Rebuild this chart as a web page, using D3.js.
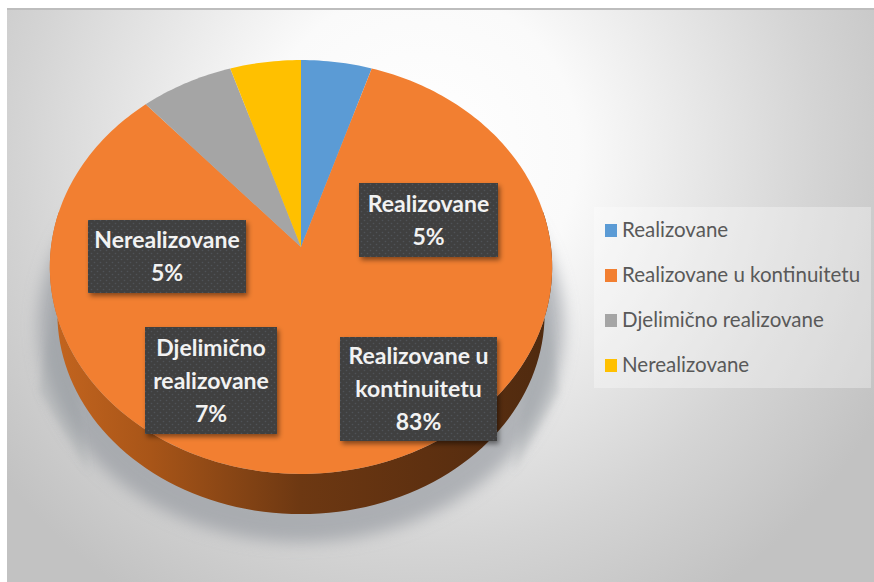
<!DOCTYPE html>
<html><head><meta charset="utf-8">
<script src="https://cdn.jsdelivr.net/npm/d3@7/dist/d3.min.js"></script>
<style>html,body{margin:0;padding:0;background:#fff}svg{display:block}</style>
</head><body><svg id="c" width="874" height="582"></svg>
<script>
const categories = ["Realizovane","Realizovane u kontinuitetu","Djelimično realizovane","Nerealizovane"];
const values = [5, 83.4, 6.6, 5];
const colors = ["#5b9bd5","#f27f31","#a5a5a5","#ffc000"];
const labelPositions = [[359,183,139,74],[340,337,157,104],[145,327,132,107],[88,220,158,73]];
const labelLines = [["Realizovane"],["Realizovane u","kontinuitetu"],["Djelimično","realizovane"],["Nerealizovane"]];

const svg = d3.select("#c");
const defs = svg.append("defs");
const bg = defs.append("radialGradient").attr("id","bg").attr("gradientUnits","userSpaceOnUse")
  .attr("cx",420).attr("cy",150).attr("r",530);
bg.append("stop").attr("offset","0").attr("stop-color","#ffffff");
bg.append("stop").attr("offset","0.3").attr("stop-color","#fafafa");
bg.append("stop").attr("offset","0.75").attr("stop-color","#d4d4d4");
bg.append("stop").attr("offset","1").attr("stop-color","#c2c2c2");
const side = defs.append("linearGradient").attr("id","side").attr("gradientUnits","userSpaceOnUse")
  .attr("x1",50).attr("x2",552).attr("y1",0).attr("y2",0);
[[0,"#c4651f"],[0.2,"#a85518"],[0.5,"#6d3812"],[0.75,"#5e3010"],[1,"#4f2a0f"]].forEach(s=>side.append("stop").attr("offset",s[0]).attr("stop-color",s[1]));
const blur = defs.append("filter").attr("id","blur").attr("x","-20%").attr("y","-20%").attr("width","140%").attr("height","140%");
blur.append("feGaussianBlur").attr("stdDeviation",8);
const flare = defs.append("filter").attr("id","flare").attr("x","-50%").attr("y","-30%").attr("width","200%").attr("height","160%");
flare.append("feGaussianBlur").attr("stdDeviation",3.5);
const soft = defs.append("filter").attr("id","soft").attr("x","-20%").attr("y","-20%").attr("width","140%").attr("height","140%");
soft.append("feGaussianBlur").attr("stdDeviation",2.5);
const pat = defs.append("pattern").attr("id","dots").attr("width",6).attr("height",6).attr("patternUnits","userSpaceOnUse");
pat.append("rect").attr("width",6).attr("height",6).attr("fill","#404040");
pat.append("circle").attr("cx",1.5).attr("cy",1.5).attr("r",.8).attr("fill","#4f5358");
pat.append("circle").attr("cx",4.5).attr("cy",4.5).attr("r",.8).attr("fill","#4f5358");

// Background panel
svg.append("rect").attr("x",7).attr("y",9).attr("width",867).attr("height",573).attr("fill","url(#bg)");
svg.append("rect").attr("x",7).attr("y",8).attr("width",867).attr("height",2).attr("fill","#bdbdbd");

// Perspective disc: unit circle projected onto the page
const cx = 301, cy = 247, bx = 250, by = 205, k = -0.0966;
const project = (a, ox = 0, oy = 0, s = 1) => {
  const X = Math.sin(a), Y = -Math.cos(a), w = 1 + k * Y;
  return [cx + ox + s * bx * X / w, cy + oy + s * by * Y / w];
};
const tau = Math.PI * 2;
const rim = d3.range(0, 361, 2).map(d => d / 360 * tau);

// Soft shadow under the pie, with a faint flare on each side
const shadow = svg.append("g").attr("fill","#8f959b");
shadow.append("path")
  .attr("d", d3.line()(rim.map(a => project(a, 0, 58, 1.045))) + "Z")
  .attr("fill-opacity",.62).attr("filter","url(#blur)");
const flareBox = shadow.append("g").attr("fill-opacity",.22).attr("filter","url(#flare)");
flareBox.append("path").attr("d", d3.line()([project(tau*0.75,8,25),project(tau*0.72,-12,105),project(tau*0.66,10,110)]) + "Z");
flareBox.append("path").attr("d", d3.line()([project(tau*0.25,-8,25),project(tau*0.28,8,105),project(tau*0.34,-10,110)]) + "Z");

// Side wall: between the top rim and a slightly smaller lower rim
const rimTop = rim.filter(a => { const d = a / tau * 360; return d >= 80 && d <= 280; });
const wallBottom = rimTop.map(a => project(a, 0, 47, 0.97));
svg.append("path")
  .attr("d", d3.line()(rimTop.map(a => project(a)).concat(wallBottom.reverse())) + "Z")
  .attr("fill","url(#side)");

// Slices
const arcs = d3.pie().sort(null).value(d => d)(values);
arcs.forEach((d, i) => {
  const n = Math.max(2, Math.ceil((d.endAngle - d.startAngle) / 0.02));
  const pts = d3.range(n + 1).map(j => project(d.startAngle + (d.endAngle - d.startAngle) * j / n));
  svg.append("path")
    .attr("d", d3.line()([[cx, cy], ...pts]) + "Z")
    .attr("fill", colors[i]);
});

// Data labels
const total = d3.sum(values);
const pct = d3.format(".0%");
labelPositions.forEach((b, i) => {
  const [x, y, w, h] = b;
  svg.append("rect").attr("x",x+2).attr("y",y+3).attr("width",w).attr("height",h).attr("fill","#000").attr("fill-opacity",.45).attr("filter","url(#soft)");
  svg.append("rect").attr("x",x).attr("y",y).attr("width",w).attr("height",h).attr("fill","url(#dots)");
  const lines = labelLines[i].concat(pct(values[i] / total));
  const t = svg.append("text").attr("text-anchor","middle").attr("fill","#f2f2f2")
    .attr("font-family","Lato, sans-serif").attr("font-weight",700).attr("font-size",23);
  const lh = 33;
  const y0 = y + h / 2 - (lines.length - 1) * lh / 2 + 8;
  lines.forEach((l, j) => t.append("tspan").attr("x", x + w / 2).attr("y", y0 + j * lh).text(l));
});

// Legend
svg.append("rect").attr("x",594).attr("y",207).attr("width",277).attr("height",181).attr("fill","#fff").attr("fill-opacity",.32);
const ly = d3.scalePoint().domain(categories).range([230, 365]);
categories.forEach((c, i) => {
  svg.append("rect").attr("x",605).attr("y",ly(c)-6).attr("width",12).attr("height",13).attr("fill",colors[i]);
  svg.append("text").attr("x",622).attr("y",ly(c)+7).attr("fill","#595959")
    .attr("font-family","Lato, sans-serif").attr("font-size",20.5).text(c);
});
</script></body></html>
